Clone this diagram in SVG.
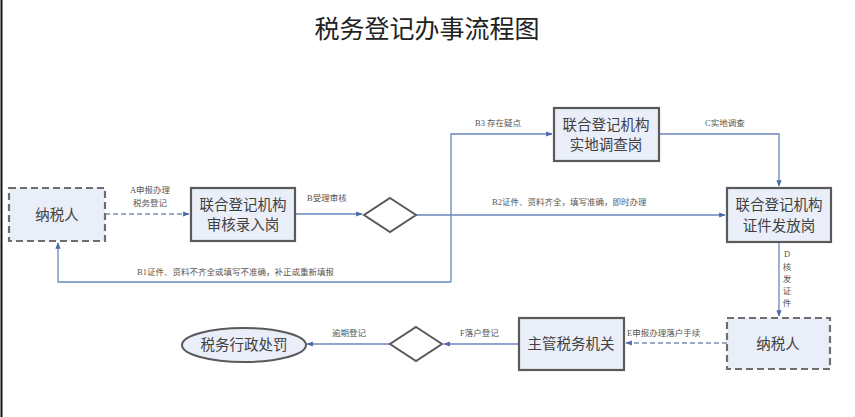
<svg xmlns="http://www.w3.org/2000/svg" width="855" height="417" viewBox="0 0 855 417">
<style>
.box{fill:#e9eef8;stroke:#5a5a5a;stroke-width:2.2}
.dbox{fill:#e9eef8;stroke:#6e6e6e;stroke-width:2.2;stroke-dasharray:7 4}
.dia{fill:#ffffff;stroke:#5a5a5a;stroke-width:2}
.ln{fill:none;stroke:#6a86bb;stroke-width:1.3}
.dl{fill:none;stroke:#7f8fae;stroke-width:1.3;stroke-dasharray:5 3}
.nt{font-family:"Liberation Serif","Noto Sans CJK SC",serif;font-size:14.5px;fill:#404040;text-anchor:middle}
.lb{font-family:"Liberation Serif","Noto Sans CJK SC",serif;font-size:8.5px;fill:#555555}
.tt{font-family:"Noto Sans CJK SC",sans-serif;font-size:25px;fill:#222222;text-anchor:middle}
</style>
<defs>
<marker id="ar" viewBox="0 0 10 10" refX="9" refY="5" markerWidth="5" markerHeight="5" orient="auto">
<path d="M0,1 L10,5 L0,9 Z" fill="#4a6aa8"/>
</marker>
</defs>
<rect x="0" y="0" width="855" height="417" fill="#ffffff"/>
<line x1="1.5" y1="0" x2="1.5" y2="417" stroke="#111" stroke-width="2"/>
<text class="tt" x="427" y="38">税务登记办事流程图</text>

<g id="connectors">
<path class="dl" d="M105,214 L189,214" marker-end="url(#ar)"/>
<path class="ln" d="M295,214 L362,214" marker-end="url(#ar)"/>
<path class="ln" d="M416,215 L725,215" marker-end="url(#ar)"/>
<path class="ln" d="M451,282 L451,134 L552,134" marker-end="url(#ar)"/>
<path class="ln" d="M451,282 L58,282 L58,243" marker-end="url(#ar)"/>
<path class="ln" d="M659,134 L779,134 L779,186" marker-end="url(#ar)"/>
<path class="ln" d="M779,243 L779,316" marker-end="url(#ar)"/>
<path class="dl" d="M727,343 L626,343" marker-end="url(#ar)"/>
<path class="ln" d="M519,344 L444,344" marker-end="url(#ar)"/>
<path class="ln" d="M390,344 L307,344" marker-end="url(#ar)"/>
<text class="lb" x="150" y="193" text-anchor="middle">A申报办理</text>
<text class="lb" x="150" y="206" text-anchor="middle">税务登记</text>
<text class="lb" x="307" y="201">B受理审核</text>
<text class="lb" x="475" y="126">B3 存在疑点</text>
<text class="lb" x="705" y="126">C实地调查</text>
<text class="lb" x="492" y="205">B2证件、资料齐全，填写准确，即时办理</text>
<text class="lb" x="137" y="275">B1证件、资料不齐全或填写不准确，补正或重新填报</text>
<text class="lb" x="787" y="257" text-anchor="middle">D</text>
<text class="lb" x="787" y="270" text-anchor="middle">核</text>
<text class="lb" x="787" y="282" text-anchor="middle">发</text>
<text class="lb" x="787" y="294" text-anchor="middle">证</text>
<text class="lb" x="787" y="306" text-anchor="middle">件</text>
<text class="lb" x="627" y="336">E申报办理落户手续</text>
<text class="lb" x="460" y="336">F落户登记</text>
<text class="lb" x="332" y="336">逾期登记</text>
</g>

<g id="n1">
<rect class="dbox" x="9" y="188" width="96" height="53"/>
<text class="nt" x="57" y="220">纳税人</text>
</g>
<g id="n2">
<rect class="box" x="191" y="188" width="104" height="53"/>
<text class="nt" x="243" y="210">联合登记机构</text>
<text class="nt" x="243" y="230">审核录入岗</text>
</g>
<g id="d1">
<polygon class="dia" points="390,198 416,215 390,232 364,215"/>
</g>
<g id="n3">
<rect class="box" x="554" y="108" width="105" height="53"/>
<text class="nt" x="606" y="130">联合登记机构</text>
<text class="nt" x="606" y="150">实地调查岗</text>
</g>
<g id="n4">
<rect class="box" x="727" y="188" width="104" height="54"/>
<text class="nt" x="779" y="210">联合登记机构</text>
<text class="nt" x="779" y="231">证件发放岗</text>
</g>
<g id="n5">
<rect class="dbox" x="727" y="318" width="103" height="51"/>
<text class="nt" x="778" y="349">纳税人</text>
</g>
<g id="n6">
<rect class="box" x="519" y="318" width="105" height="52"/>
<text class="nt" x="571" y="349">主管税务机关</text>
</g>
<g id="d2">
<polygon class="dia" points="416,327 442,344 416,361 390,344"/>
</g>
<g id="n7">
<ellipse cx="244" cy="345" rx="62" ry="17" fill="#e9eef8" stroke="#5a5a5a" stroke-width="2"/>
<text class="nt" x="244" y="350">税务行政处罚</text>
</g>
</svg>
